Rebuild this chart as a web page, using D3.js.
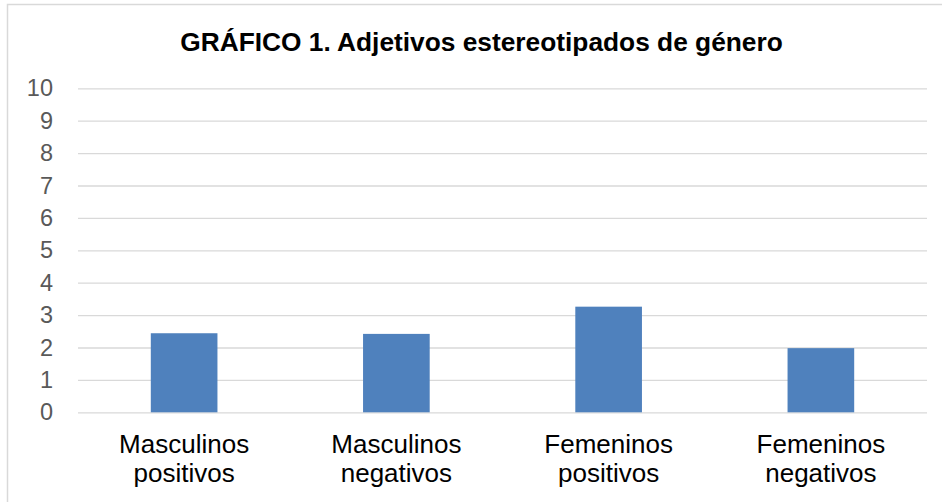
<!DOCTYPE html>
<html><head><meta charset="utf-8">
<script src="https://cdn.jsdelivr.net/npm/d3@7"></script>
<style>body{margin:0;background:#fff}svg{display:block}</style>
</head><body>
<script>
const titleText = "GRÁFICO 1. Adjetivos estereotipados de género";
const categories = [["Masculinos","positivos"],["Masculinos","negativos"],["Femeninos","positivos"],["Femeninos","negativos"]];
const values = [2.44, 2.42, 3.26, 1.98];
const yTicks = [0,1,2,3,4,5,6,7,8,9,10];

const W = 942, H = 502;
const svg = d3.select("body").append("svg").attr("width", W).attr("height", H);
svg.append("rect").attr("width", W).attr("height", H).attr("fill", "#fff");
// chart border
svg.append("path").attr("d", "M7.5,520V4.5H960").attr("fill","none").attr("stroke","#d9d9d9").attr("stroke-width",1.5);

const font = "Liberation Sans, Arial, sans-serif";
svg.append("text").attr("x", 481.5).attr("y", 50.5).attr("text-anchor","middle")
  .attr("font-family", font).attr("font-weight","bold").attr("font-size", 26.3).attr("fill","#000").text(titleText);

const x0 = 78, x1 = 927, yTop = 88.3, yBot = 412.3;
const keys = categories.map(c => c.join(" "));
const x = d3.scaleBand().domain(keys).range([x0, x1]).paddingInner(0.686).paddingOuter(0.343);
const y = d3.scaleLinear().domain([0, 10]).range([yBot, yTop]);

const grid = svg.append("g").attr("transform", `translate(${x0},0)`)
  .call(d3.axisLeft(y).tickValues(yTicks).tickSize(-(x1 - x0)).tickFormat(d3.format("d")).tickPadding(25));
grid.select(".domain").remove();
grid.selectAll(".tick line").attr("stroke", "#d9d9d9").attr("stroke-width", 1.3);
grid.selectAll(".tick text").attr("font-family", font).attr("font-size", 23.5).attr("fill", "#595959");

svg.append("g").selectAll("rect").data(values).join("rect")
  .attr("x", (d,i) => x(keys[i])).attr("width", x.bandwidth())
  .attr("y", d => y(d)).attr("height", d => y(0) - y(d)).attr("fill", "#4f81bd");

const xa = svg.append("g").attr("transform", `translate(0,${yBot})`).call(d3.axisBottom(x).tickSize(0).tickFormat(""));
xa.select(".domain").remove();
xa.selectAll(".tick").each(function(d, i) {
  const t = d3.select(this).append("text").attr("text-anchor","middle").attr("font-family", font)
    .attr("font-size", 26).attr("fill", "#000");
  categories[i].forEach((s, j) => t.append("tspan").attr("x", 0).attr("y", 41 + j * 29).text(s));
});
</script>
</body></html>
